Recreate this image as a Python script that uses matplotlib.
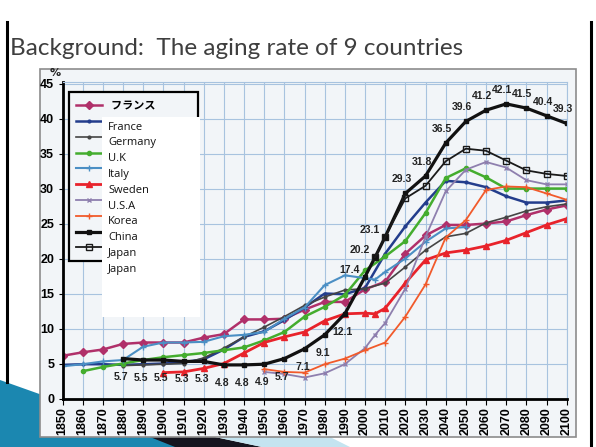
import matplotlib
matplotlib.use('Agg')
import matplotlib.pyplot as plt
import numpy as np
from matplotlib.patches import Rectangle, Polygon
from matplotlib.lines import Line2D

# Data (aging rate, %)
years = [1850, 1860, 1870, 1880, 1890, 1900, 1910, 1920, 1930, 1940, 1950, 1960,
         1970, 1980, 1990, 2000, 2005, 2010, 2020, 2030, 2040, 2050, 2060, 2070,
         2080, 2090, 2100]
N = None

france = [6.1, 6.6, 7.0, 7.8, 8.0, 8.0, 8.0, 8.7, 9.2, 11.3, 11.3, 11.4,
          12.7, 13.8, 13.8, 15.6, N, 16.7, 20.7, 23.3, 24.8, 24.8, 25.0, 25.3,
          26.2, 27.0, 27.6]
navy = [4.8, 4.9, 4.9, 4.8, 4.9, 5.0, 5.2, 5.6, 7.0, 8.8, 9.6, 11.2,
        13.0, 15.0, 14.9, 15.8, N, 20.7, 24.6, 28.0, 31.1, 30.9, 30.2, 28.9,
        28.0, 28.0, 28.3]
germany = [N, N, N, 4.7, 4.8, 4.9, 5.0, 5.8, 7.2, 8.8, 10.2, 11.7,
           13.3, 14.5, 15.5, 15.7, N, 16.5, 18.8, 21.2, 23.1, 23.6, 25.1, 25.9,
           26.8, 27.4, 27.8]
uk = [N, 3.9, 4.5, 5.0, 5.5, 5.9, 6.2, 6.5, 6.9, 7.3, 8.3, 9.5,
      11.7, 13.1, 14.8, 18.3, N, 20.3, 22.5, 26.5, 31.5, 32.9, 31.6, 30.0,
      30.0, 30.0, 30.0]
italy = [4.6, 4.9, 5.3, 5.5, 7.4, 8.0, 8.0, 8.1, 8.9, 9.1, 9.5, 11.4,
         13.0, 16.2, 17.6, 17.2, 17.0, 18.1, 20.0, 22.4, 24.3, 24.5, N, N,
         N, N, N]
sweden = [N, N, N, N, N, 3.7, 3.8, 4.3, 5.0, 6.5, 8.0, 8.8,
          9.5, 11.1, 12.1, 12.2, 12.1, 12.9, 16.5, 19.8, 20.8, 21.2, 21.8, 22.6,
          23.7, 24.8, 25.7]
usa = [N, N, N, N, N, N, N, N, N, N, 3.8, 3.5,
       3.0, 3.6, 4.9, 7.2, 9.1, 10.8, 15.7, 23.1, 29.6, 32.7, 33.8, 33.0,
       31.2, 30.6, 30.6]
korea = [N, N, N, N, N, N, N, N, N, N, 4.2, 3.8,
         3.7, 4.9, 5.7, 6.9, N, 8.0, 11.7, 16.3, 23.0, 25.5, 29.8, 30.3,
         30.2, 29.3, 28.4]
japan = [N, N, N, 5.7, 5.5, 5.5, 5.3, 5.3, 4.8, 4.8, 4.9, 5.7,
         7.1, 9.1, 12.1, 17.4, 20.2, 23.1, 29.3, 31.8, 36.5, 39.6, 41.2, 42.1,
         41.5, 40.4, 39.3]
japan2 = [N, N, N, N, N, N, N, N, N, N, N, N,
          N, N, N, N, 20.2, 23.1, 28.6, 30.4, 33.9, 35.7, 35.4, 34.0,
          32.6, 32.1, 31.8]

legend_names = ['France', 'Germany', 'U.K', 'Italy', 'Sweden', 'U.S.A',
                'Korea', 'China', 'Japan', 'Japan']

W, H = 596, 447
def fx(px):
    return px / W
def fy(py):
    return 1 - py / H

fig = plt.figure(figsize=(5.96, 4.47), dpi=100)

# slide decoration
fig.text(fx(10), fy(55), 'Background:  The aging rate of 9 countries',
         fontsize=17.5, color='#3f3f3f', family='Lato')
fig.add_artist(Line2D([fx(7), fx(7)], [fy(22), fy(382)], color='black', lw=2.2))
fig.add_artist(Line2D([fx(591), fx(591)], [fy(22), fy(447)], color='black', lw=2.2))
fig.patches.append(Polygon([(fx(0), fy(380)), (fx(90), fy(412)), (fx(175), fy(437)),
                            (fx(190), fy(447)), (fx(0), fy(447))],
                           closed=True, transform=fig.transFigure,
                           facecolor='#1b87b0', edgecolor='none', zorder=-3))
fig.patches.append(Polygon([(fx(150), fy(437)), (fx(215), fy(437)), (fx(262), fy(447)),
                            (fx(175), fy(447))],
                           closed=True, transform=fig.transFigure,
                           facecolor='#15151f', edgecolor='none', zorder=-2))
fig.patches.append(Polygon([(fx(215), fy(437)), (fx(330), fy(437)), (fx(350), fy(447)),
                            (fx(262), fy(447))],
                           closed=True, transform=fig.transFigure,
                           facecolor='#c4e4f0', edgecolor='none', zorder=-2))
# scanned picture frame
fig.patches.append(Rectangle((fx(40), fy(437)), (576 - 40) / W, (437 - 69) / H,
                             transform=fig.transFigure, facecolor='#f2f5f8',
                             edgecolor='#8c8c8c', lw=1.2, zorder=-1))

ax = fig.add_axes([fx(62.5), fy(398.5), (566.7 - 62.5) / W, (398.5 - 81.5) / H])
ax.set_facecolor('none')

yrs = np.array(years)
styles = [
    (france, dict(color='#b0306a', marker='D', ms=4, lw=1.8)),
    (navy, dict(color='#233d8c', marker='o', ms=2, lw=1.8)),
    (germany, dict(color='#454545', marker='o', ms=2, lw=1.2)),
    (uk, dict(color='#44ad2e', marker='o', ms=3, lw=1.8)),
    (italy, dict(color='#4b8fc4', marker='+', ms=4, lw=1.5)),
    (sweden, dict(color='#e8232b', marker='^', ms=4.5, lw=2.0)),
    (usa, dict(color='#8e7fae', marker='x', ms=3.5, lw=1.3)),
    (korea, dict(color='#f15a2b', marker='+', ms=4, lw=1.3)),
    (japan, dict(color='#111111', marker='s', ms=2.5, lw=2.3)),
    (japan2, dict(color='#1a1a1a', marker='s', mfc='none', ms=4.5, lw=1.3)),
]
handles = []
for vals, st in styles:
    v = np.array(vals, dtype=float)
    m = ~np.isnan(v)
    h, = ax.plot(yrs[m], v[m], **st)
    handles.append(h)

# value labels on the Japan curve
for yr, v in zip(years, japan):
    if v is None:
        continue
    if yr < 1995:
        off = (-2, -18)
    elif yr <= 2010:
        off = (-15, 7)
    else:
        off = (-4, 14)
    ax.annotate(f'{v:.1f}', (yr, v), xytext=off, textcoords='offset pixels',
                ha='center', va='center', fontsize=7.5, fontweight='bold',
                family='Liberation Sans', color='#222222')

ax.set_xlim(1850, 2100)
ax.set_ylim(0, 45.3)
ax.set_xticks(np.arange(1850, 2101, 10))
ax.set_yticks(np.arange(0, 46, 5))
ax.set_xticklabels([str(t) for t in range(1850, 2101, 10)], rotation=90,
                   fontsize=9, fontweight='bold', family='Liberation Sans')
ax.set_yticklabels([str(t) for t in range(0, 46, 5)],
                   fontsize=9, fontweight='bold', family='Liberation Sans')
ax.tick_params(axis='x', length=4, width=0.8, pad=2)
ax.tick_params(axis='y', length=3, width=0.8, pad=3)
ax.grid(True, color='#a8c3df', lw=0.8)
ax.set_axisbelow(True)
for s in ['left', 'bottom']:
    ax.spines[s].set_linewidth(2)
    ax.spines[s].set_color('black')
for s in ['top', 'right']:
    ax.spines[s].set_linewidth(0.8)
    ax.spines[s].set_color('#a8c3df')

fig.text(fx(50), fy(76), '%', fontsize=8, fontweight='bold', color='#222222')

leg_labels = ['フランス\u3000\u3000\u3000 '] + [''] * 9
leg = ax.legend(handles, leg_labels, loc='upper left',
                bbox_to_anchor=(fx(69), fy(92)), bbox_transform=fig.transFigure,
                borderaxespad=0,
                fancybox=False, edgecolor='black', facecolor='#f2f5f8', framealpha=1,
                handlelength=2.3, labelspacing=0.25, borderpad=0.65,
                prop=dict(family=['Noto Sans CJK JP'], weight='bold', size=8))
leg.get_frame().set_linewidth(1.6)

# English overlay box on top of the legend
fig.patches.append(Rectangle((fx(102), fy(317)), 98 / W, 200 / H,
                             transform=fig.transFigure, facecolor='white',
                             edgecolor='none', zorder=5))
for i, name in enumerate(legend_names):
    fig.text(fx(108), fy(127 + 15.8 * i), name, fontsize=8, family='Open Sans',
             color='#111111', va='center', zorder=6)

fig.savefig('out.png', dpi=100)
